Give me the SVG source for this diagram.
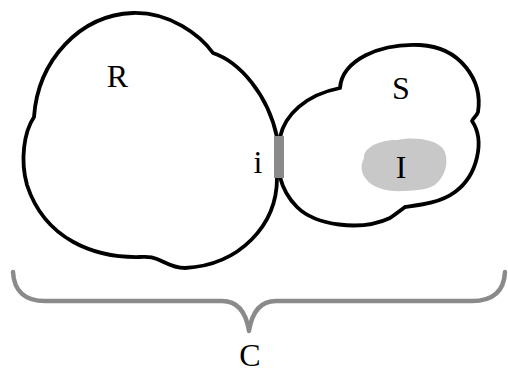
<svg xmlns="http://www.w3.org/2000/svg" width="508" height="374" viewBox="0 0 508 374">
  <style>
    .blob { fill: none; stroke: #000; stroke-width: 3.8; stroke-linejoin: round; }
    .lbl { font-family: "Liberation Serif", "Times New Roman", serif; font-size: 32px; fill: #000; text-anchor: middle; }
    .brace { fill: none; stroke: #8a8a8a; stroke-width: 4.5; stroke-linecap: round; stroke-linejoin: round; }
  </style>
  <rect width="508" height="374" fill="#fff"/>
  <g id="node-R">
    <path class="blob" d="M 213,53 C 240,62 268,95 277,137 L 277,178 C 277,225 240,265 185,268 C 172,268 165,262 157,259 C 150,256 145,257 140,257 C 95,258 45,240 27,185 C 20,160 24,132 34,117 C 38,60 80,15 133,13 C 170,12 200,35 213,53 Z"/>
    <text class="lbl" x="117.5" y="87">R</text>
  </g>
  <g id="node-S">
    <path class="blob" d="M 280,137 C 285,115 305,95 340,88 C 342,60 380,43 420,45 C 460,47 483,80 478,112 C 477,116 473,118 472,121 C 485,140 478,175 455,192 C 440,203 420,205 405,207 C 401,210 396,214 390,218 C 360,232 315,225 297,207 C 287,197 282,185 280,177 Z"/>
    <text class="lbl" x="401" y="99">S</text>
  </g>
  <g id="node-I">
    <path d="M 364,158 C 363,146 384,139 398,140 C 410,137 436,138 444,150 C 449,160 446,174 438,182 C 430,191 415,190 404,191 C 388,192 372,188 366,179 C 360,172 361,164 364,158 Z" fill="#c8c8c8"/>
    <text class="lbl" x="401" y="178">I</text>
  </g>
  <g id="interface-i">
    <rect x="274" y="136" width="10" height="42" fill="#8a8a8a"/>
    <text class="lbl" x="258" y="173">i</text>
  </g>
  <g id="connectors"/>
  <g id="brace-C">
    <path class="brace" d="M 13,272 C 14,292 26,301 45,301 L 222,301 C 238,301 246,312 249,331 C 252,312 260,301 276,301 L 472,301 C 492,301 504,292 505,272"/>
    <text class="lbl" x="250" y="366">C</text>
  </g>
</svg>
